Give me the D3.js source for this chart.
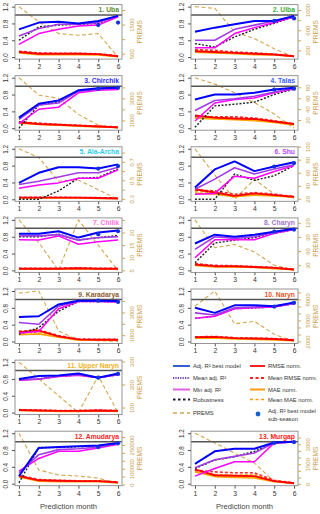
<!DOCTYPE html>
<html><head><meta charset="utf-8">
<script src="https://cdn.jsdelivr.net/npm/d3@7"></script>
<style>body{margin:0;background:#fff} svg{display:block;font-family:"Liberation Sans",Arial,sans-serif}</style>
</head><body><svg id="c" width="320" height="514"></svg>
<script>
const months = [1, 2, 3, 4, 5, 6];
const panelNames = ["1. Uba","2. Ulba","3. Chirchik","4. Talas","5. Ala-Archa","6. Shu","7. Chilik","8. Charyn","9. Karadarya","10. Naryn","11. Upper Naryn","12. Amudarya","13. Murgap"];
const titleColors = ["#5E8C31","#3DAE3D","#2F2FFF","#3A5BFF","#2CCBEA","#B24BFF","#FF6FDC","#A174C4","#8B5A2B","#F0541E","#F2B21E","#FF2424","#FF1A1A"];
const leftTicks = [0, 0.4, 0.8, 1.2];

const adjBest = [
 [0.66,0.82,0.84,0.80,0.86,0.98],[0.60,0.70,0.78,0.86,0.86,0.98],[0.25,0.58,0.66,0.90,0.95,0.96],
 [0.68,0.80,0.80,0.84,0.92,0.96],[0.39,0.63,0.76,0.76,0.73,0.83],[0.28,0.71,0.90,0.67,0.78,0.88],
 [0.87,0.87,0.93,0.78,0.90,0.95],[0.64,0.85,0.80,0.85,0.92,0.99],[0.58,0.60,0.88,0.97,0.97,0.96],
 [0.80,0.68,0.86,0.86,0.84,0.93],[0.80,0.87,0.88,0.93,0.83,0.93],[0.18,0.85,0.87,0.89,0.91,0.97],
 [0.47,0.77,0.83,0.83,0.98,1.00]];
const subSeason = [
 [0.76,0.82],[0.86,0.92],[0.94,0.96],[0.92,0.94],[0.73,0.79],[0.78,0.86],[0.86,0.93],
 [0.92,0.97],[0.97,0.94],[0.83,0.92],[0.83,0.92],[0.87,0.96],[0.97,0.99]];
const meanAdj = [
 [0.50,0.68,0.78,0.78,0.82,0.98],[0.40,0.40,0.66,0.76,0.86,0.96],[0.21,0.55,0.60,0.88,0.92,0.95],
 [0.42,0.66,0.70,0.76,0.86,0.95],[0.35,0.43,0.53,0.63,0.63,0.76],[0.24,0.48,0.75,0.60,0.72,0.82],
 [0.82,0.82,0.85,0.72,0.78,0.80],[0.50,0.80,0.76,0.80,0.90,0.98],[0.45,0.41,0.84,0.96,0.96,0.95],
 [0.68,0.63,0.80,0.82,0.84,0.90],[0.78,0.80,0.87,0.90,0.84,0.90],[0.26,0.69,0.81,0.83,0.87,0.95],
 [0.38,0.57,0.65,0.73,0.97,0.99]];
const minAdj = [
 [0.30,0.56,0.66,0.74,0.76,0.96],[0.22,0.22,0.56,0.70,0.82,0.96],[0.11,0.45,0.50,0.84,0.90,0.92],
 [0.17,0.60,0.68,0.72,0.84,0.94],[0.26,0.34,0.39,0.50,0.50,0.70],[0.12,0.14,0.55,0.50,0.66,0.80],
 [0.73,0.72,0.82,0.62,0.68,0.72],[0.30,0.73,0.73,0.73,0.88,0.97],[0.20,0.24,0.78,0.95,0.95,0.94],
 [0.55,0.60,0.78,0.80,0.82,0.90],[0.77,0.79,0.86,0.89,0.83,0.90],[0.30,0.60,0.77,0.77,0.85,0.94],
 [0.18,0.36,0.52,0.52,0.97,0.99]];
const robustness = [
 [0.40,0.72,0.76,0.78,0.80,0.98],[0.32,0.24,0.48,0.66,0.80,0.96],[0.00,0.55,0.62,0.88,0.93,0.95],
 [0.02,0.53,0.57,0.62,0.80,0.93],[0.00,0.00,0.20,0.50,0.52,0.72],[0.00,0.00,0.60,0.45,0.56,0.80],
 [0.80,0.80,0.86,0.72,0.78,0.83],[0.18,0.65,0.72,0.78,0.88,0.97],[0.17,0.33,0.72,0.95,0.95,0.94],
 [0.55,0.60,0.78,0.80,0.82,0.90],[0.77,0.80,0.86,0.89,0.83,0.90],[0.02,0.86,0.86,0.88,0.90,0.96],
 [0.36,0.56,0.64,0.77,0.97,0.99]];
const rmse = [
 [0.12,0.08,0.08,0.08,0.07,0.02],[0.14,0.12,0.10,0.08,0.06,0.02],[0.14,0.10,0.08,0.06,0.04,0.02],
 [0.30,0.25,0.23,0.22,0.16,0.10],[0.04,0.04,0.04,0.04,0.03,0.02],[0.24,0.16,0.08,0.14,0.10,0.06],
 [0.04,0.04,0.04,0.05,0.04,0.04],[0.14,0.10,0.10,0.08,0.06,0.02],[0.22,0.26,0.12,0.05,0.04,0.04],
 [0.10,0.11,0.08,0.07,0.06,0.03],[0.06,0.05,0.04,0.04,0.05,0.04],[0.18,0.08,0.07,0.06,0.06,0.03],
 [0.34,0.20,0.19,0.18,0.06,0.01]];
const meanRmse = [
 [0.14,0.10,0.09,0.09,0.08,0.03],[0.18,0.16,0.12,0.10,0.07,0.03],[0.15,0.12,0.09,0.07,0.05,0.03],
 [0.28,0.27,0.27,0.24,0.18,0.10],[0.05,0.05,0.05,0.04,0.04,0.03],[0.22,0.20,0.12,0.16,0.12,0.06],
 [0.05,0.05,0.05,0.06,0.05,0.05],[0.16,0.12,0.11,0.09,0.07,0.03],[0.24,0.28,0.14,0.06,0.05,0.05],
 [0.11,0.12,0.09,0.08,0.07,0.04],[0.07,0.06,0.05,0.05,0.06,0.05],[0.20,0.10,0.08,0.07,0.07,0.04],
 [0.32,0.28,0.26,0.26,0.08,0.02]];
const mae = [
 [0.10,0.06,0.06,0.06,0.05,0.01],[0.12,0.10,0.08,0.06,0.05,0.02],[0.12,0.09,0.07,0.05,0.03,0.02],
 [0.24,0.22,0.20,0.18,0.14,0.08],[0.03,0.03,0.03,0.03,0.02,0.02],[0.14,0.12,0.06,0.10,0.08,0.05],
 [0.03,0.03,0.03,0.04,0.03,0.03],[0.12,0.08,0.08,0.07,0.04,0.02],[0.16,0.18,0.10,0.03,0.03,0.03],
 [0.08,0.08,0.06,0.05,0.04,0.02],[0.05,0.04,0.03,0.03,0.04,0.03],[0.16,0.06,0.05,0.05,0.05,0.02],
 [0.28,0.17,0.15,0.14,0.05,0.01]];
const meanMae = [
 [0.12,0.08,0.07,0.07,0.06,0.02],[0.15,0.13,0.10,0.08,0.06,0.02],[0.13,0.10,0.08,0.06,0.04,0.02],
 [0.26,0.24,0.22,0.20,0.15,0.09],[0.04,0.04,0.04,0.03,0.03,0.02],[0.18,0.16,0.09,0.12,0.09,0.05],
 [0.04,0.04,0.04,0.05,0.04,0.04],[0.14,0.10,0.09,0.08,0.05,0.02],[0.19,0.22,0.12,0.04,0.04,0.04],
 [0.09,0.10,0.07,0.06,0.05,0.03],[0.06,0.05,0.04,0.04,0.05,0.04],[0.18,0.08,0.06,0.06,0.06,0.03],
 [0.30,0.22,0.20,0.22,0.07,0.02]];
const premsValues = [
 [2115,1596,1192,1134,1192,385],[1067,1033,567,433,233,67],[4880,3313,3000,1549,569,294],
 [97.6,86,70,52,31,5],[0.84,0.746,0.49,0.504,0.398,0.296],[96.7,56.7,19.3,50,27.3,20.7],
 [25,16,5,25,15,5],[126,67,74,58,30,19],[4700,4885,1370,556,520,445],
 [7040,9200,4520,4880,3020,2000],[297,224,151,78,237,78],[324000,91800,59400,54000,40500,5000],
 [3830,3095,2330,1595,191,32]];
const premsTicks = [
 [500,1000,1500,2000],[200,400,600,800,1000],[1000,2000,3000,4000],[20,40,60,80],
 [0.3,0.4,0.5,0.6,0.7,0.8],[20,40,60,80,100],[5,10,15,20,25],[30,60,90,120],
 [1000,2000,3000,4000],[2000,3000,4000,5000,6000,7000,8000,9000],[100,200,300],
 [0,50000,100000,150000,200000,250000,300000],[0,500,1000,1500,2000,2500,3000,3500]];
const premsLabels = [
 [500,1500],[200,600,1000],[1000,3000],[20,40,60,80],[0.3,0.5,0.7],[20,40,60,80,100],
 [5,10,15,20],[30,60,90,120],[1000,3000],[2000,5000,8000],[100,200,300],
 [0,100000,250000],[0,1500,3000]];
const legendLeft = ["Adj. R\u00B2 best model","Mean adj. R\u00B2","Min adj. R\u00B2","Robustness","PREMS"];
const legendRight = ["RMSE norm.","Mean RMSE norm.","MAE norm.","Mean MAE norm.","Adj. R\u00B2 best model|sub-season"];

const TAN = "#D4A54E", TANTXT = "#C9A04E";
const svg = d3.select("#c");
const W = 107, H = 54.5;
const colX = [15, 191];
const rowTop = r => 4.6 + 71.1 * r;
const panelPos = [[0,0],[1,0],[0,1],[1,1],[0,2],[1,2],[0,3],[1,3],[0,4],[1,4],[0,5],[0,6],[1,6]];
const x = d3.scaleLinear().domain([0.8, 6.2]).range([0, W]);
const y = d3.scaleLinear().domain([-0.048, 1.248]).range([H, 0]);
const line = d3.line().x((d, i) => x(months[i])).y(d => y(d));

panelNames.forEach((name, p) => {
  const [c, r] = panelPos[p];
  const g = svg.append("g").attr("transform", `translate(${colX[c]},${rowTop(r)})`);
  const pv = premsValues[p];
  const ps = d3.scaleLinear().domain([d3.min(pv), d3.max(pv)]).range([y(0), y(1.2)]);
  const premsLine = d3.line().x((d, i) => x(months[i])).y(d => ps(d));
  g.append("path").attr("d", premsLine(pv)).attr("fill", "none").attr("stroke", TAN)
    .attr("stroke-width", 1.1).attr("stroke-dasharray", "4,2.5");
  g.append("line").attr("x1", 0).attr("x2", W).attr("y1", y(1)).attr("y2", y(1))
    .attr("stroke", "#555").attr("stroke-width", 1.5);
  const series = [
    [meanMae[p], "#FFA500", 1.4, "3,2"],
    [mae[p], "#FFA500", 1.7, null],
    [meanRmse[p], "#FF3030", 1.6, "3,2"],
    [rmse[p], "#FF0000", 1.9, null],
    [robustness[p], "#222", 1.4, "2,1.6"],
    [minAdj[p], "#FF00FF", 1.5, null],
    [meanAdj[p], "#A23BE6", 1.6, null],
    [adjBest[p], "#0000FF", 2.0, null]
  ];
  series.forEach(([vals, col, w, dash]) => {
    const pth = g.append("path").attr("d", line(vals)).attr("fill", "none")
      .attr("stroke", col).attr("stroke-width", w).attr("stroke-linejoin", "round");
    if (dash) pth.attr("stroke-dasharray", dash);
  });
  g.selectAll("circle.ss").data(subSeason[p]).enter().append("circle")
    .attr("cx", (d, i) => x(months[4 + i])).attr("cy", d => y(d)).attr("r", 2.1).attr("fill", "#1030E0");
  g.append("rect").attr("width", W).attr("height", H).attr("fill", "none").attr("stroke", "#8a8a8a").attr("stroke-width", 0.9);
  const la = g.append("g").call(d3.axisLeft(y).tickValues(leftTicks).tickSize(3).tickFormat(d3.format(".1f")));
  la.select(".domain").remove();
  la.selectAll("line").attr("stroke", "#555");
  la.selectAll("text").attr("x", 0).attr("dy", 0).attr("text-anchor", "middle")
    .attr("transform", "translate(-7,0) rotate(-90)").attr("font-size", 6.3).attr("fill", "#333").attr("font-family", null);
  const ba = g.append("g").attr("transform", `translate(0,${H})`)
    .call(d3.axisBottom(x).tickValues(months).tickSize(3).tickPadding(2).tickFormat(d3.format("d")));
  ba.select(".domain").remove();
  ba.selectAll("line").attr("stroke", "#555");
  ba.selectAll("text").attr("font-size", 6.8).attr("fill", "#333").attr("font-family", null);
  const lbls = premsLabels[p];
  const ra = g.append("g").attr("transform", `translate(${W},0)`)
    .call(d3.axisRight(ps).tickValues(premsTicks[p]).tickSize(3)
      .tickFormat(d => lbls.some(l => Math.abs(l - d) < 1e-9) ? String(d) : ""));
  ra.select(".domain").remove();
  ra.selectAll("line").attr("stroke", TAN);
  ra.selectAll("text").attr("x", 0).attr("dy", 0).attr("text-anchor", "middle")
    .attr("transform", "translate(12,0) rotate(-90)").attr("font-size", 6).attr("fill", TANTXT).attr("font-family", null);
  g.append("text").attr("transform", `translate(${W + 20},${H / 2}) rotate(-90)`)
    .attr("text-anchor", "middle").attr("font-size", 6.6).attr("fill", TANTXT).text("PREMS");
  g.append("text").attr("x", W - 3).attr("y", 7.5).attr("text-anchor", "end")
    .attr("font-size", 6.8).attr("font-weight", "bold").attr("fill", titleColors[p]).text(name);
  if (r === 6) {
    g.append("text").attr("x", W / 2).attr("y", H + 23).attr("text-anchor", "middle")
      .attr("font-size", 7.6).attr("fill", "#444").text("Prediction month");
  }
});

const lg = svg.append("g");
const FS = 5.8;
const rowsY = [368, 380, 391.5, 401.5, 415];
const leftStyles = [["#2F5FD0", 2, null], ["#6A3DB0", 2, "1.2,1.2"], ["#E060E0", 2, null], ["#1A1A40", 2, "2.5,2.5"], [TAN, 1.6, "4,3"]];
legendLeft.forEach((t, i) => {
  const [col, w, dash] = leftStyles[i];
  const l = lg.append("line").attr("x1", 173).attr("x2", 190).attr("y1", rowsY[i] - 2).attr("y2", rowsY[i] - 2)
    .attr("stroke", col).attr("stroke-width", w);
  if (dash) l.attr("stroke-dasharray", dash);
  lg.append("text").attr("x", 193).attr("y", rowsY[i]).attr("font-size", FS).attr("fill", "#333").text(t);
});
const rightStyles = [["#FF2020", 2, null], ["#FF2020", 2, "3,2.5"], ["#FF9A10", 2, null], ["#FF9A10", 1.6, "3,2.5"]];
legendRight.forEach((t, i) => {
  if (i < 4) {
    const [col, w, dash] = rightStyles[i];
    const l = lg.append("line").attr("x1", 250).attr("x2", 265).attr("y1", rowsY[i] - 2).attr("y2", rowsY[i] - 2)
      .attr("stroke", col).attr("stroke-width", w);
    if (dash) l.attr("stroke-dasharray", dash);
    lg.append("text").attr("x", 268).attr("y", rowsY[i]).attr("font-size", FS).attr("fill", "#333").text(t);
  } else {
    lg.append("circle").attr("cx", 258).attr("cy", 414).attr("r", 2.4).attr("fill", "#1060D0");
    const parts = t.split("|");
    lg.append("text").attr("x", 268).attr("y", 413).attr("font-size", FS).attr("fill", "#333").text(parts[0]);
    lg.append("text").attr("x", 268).attr("y", 420.5).attr("font-size", FS).attr("fill", "#333").text(parts[1]);
  }
});
</script></body></html>
